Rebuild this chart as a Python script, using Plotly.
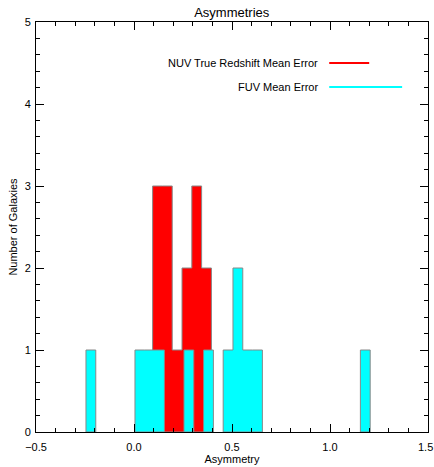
import plotly.graph_objects as go

# ---- data ----
bin_width = 0.05
nuv_left_edges = [0.095, 0.145, 0.195, 0.245, 0.295, 0.345]
nuv_counts = [3, 3, 1, 2, 3, 2]
fuv_left_edges = [-0.245, 0.005, 0.055, 0.105, 0.255, 0.355, 0.455, 0.505, 0.555, 0.605, 1.155]
fuv_counts = [1, 1, 1, 1, 1, 1, 1, 2, 1, 1, 1]
nuv_label = "NUV True Redshift Mean Error"
fuv_label = "FUV Mean Error"
x_ticks = [-0.5, 0.0, 0.5, 1.0, 1.5]
x_tick_text = ["−0.5", "0.0", "0.5", "1.0", ""]
last_x_tick_label = "1.5"
y_ticks = [0, 1, 2, 3, 4, 5]


def step_polygon(lefts, counts, w):
    xs, ys = [], []
    run = []
    def flush(run):
        if not run:
            return
        px = [run[0][0]]
        py = [0]
        for l, c in run:
            px += [l, l + w]
            py += [c, c]
        px.append(run[-1][0] + w)
        py.append(0)
        px.append(run[0][0]); py.append(0)
        xs.extend(px + [None]); ys.extend(py + [None])
    for l, c in zip(lefts, counts):
        if run and abs(run[-1][0] + w - l) > 1e-6:
            flush(run)
            run = []
        run.append((l, c))
    flush(run)
    return xs, ys


fig = go.Figure()
nx, ny = step_polygon(nuv_left_edges, nuv_counts, bin_width)
fig.add_trace(go.Scatter(x=nx, y=ny, mode="lines", fill="toself", fillcolor="#ff0000",
                         line=dict(color="#888888", width=1), hoverinfo="skip", showlegend=False))
fx, fy = step_polygon(fuv_left_edges, fuv_counts, bin_width)
fig.add_trace(go.Scatter(x=fx, y=fy, mode="lines", fill="toself", fillcolor="#00ffff",
                         line=dict(color="#888888", width=1), hoverinfo="skip", showlegend=False))

font = "Liberation Sans, Arial, Helvetica, sans-serif"

# legend drawn as IDL-style text + line samples
fig.add_shape(type="line", x0=0.996, x1=1.20, y0=4.5, y1=4.5, line=dict(color="#ff0000", width=2))
fig.add_shape(type="line", x0=0.996, x1=1.368, y0=4.207, y1=4.207, line=dict(color="#00ffff", width=2))
fig.add_annotation(x=0.95, y=4.5, text=nuv_label, showarrow=False, xanchor="right", yanchor="middle",
                   font=dict(family=font, size=11, color="black"))
fig.add_annotation(x=0.95, y=4.207, text=fuv_label, showarrow=False, xanchor="right", yanchor="middle",
                   font=dict(family=font, size=11, color="black"))
# last x tick label, nudged left so it stays inside the page (as in the reference)
fig.add_annotation(x=x_ticks[-1], y=0, text=last_x_tick_label, showarrow=False, xanchor="center",
                   yanchor="middle", xshift=-3, yshift=-15,
                   font=dict(family=font, size=11, color="black"))

axis_common = dict(showgrid=False, zeroline=False, showline=True, linecolor="black", linewidth=1,
                   mirror="allticks", ticks="inside", tickcolor="black", tickwidth=1, automargin=False,
                   tickfont=dict(family=font, size=11, color="black"))

fig.update_layout(
    width=434, height=467,
    margin=dict(l=36, r=6, t=22, b=35),
    paper_bgcolor="white", plot_bgcolor="white",
    title=dict(text="Asymmetries", x=0.534, xanchor="center", y=0.973, yanchor="middle",
               font=dict(family=font, size=13, color="black")),
    xaxis=dict(range=[-0.5, 1.5], tickvals=x_ticks, ticktext=x_tick_text,
               ticklen=8, ticklabelstandoff=5, ticklabeloverflow="allow",
               minor=dict(dtick=0.1, ticks="inside", ticklen=4, tickcolor="black"),
               title=dict(text="Asymmetry", font=dict(family=font, size=11, color="black"), standoff=1),
               **axis_common),
    yaxis=dict(range=[0, 5], tickvals=y_ticks, ticklen=8, ticklabelstandoff=2,
               minor=dict(dtick=0.2, ticks="inside", ticklen=4, tickcolor="black"),
               title=dict(text="Number of Galaxies", font=dict(family=font, size=11, color="black"), standoff=4),
               **axis_common),
    showlegend=False,
)

fig.write_html("out.html")
